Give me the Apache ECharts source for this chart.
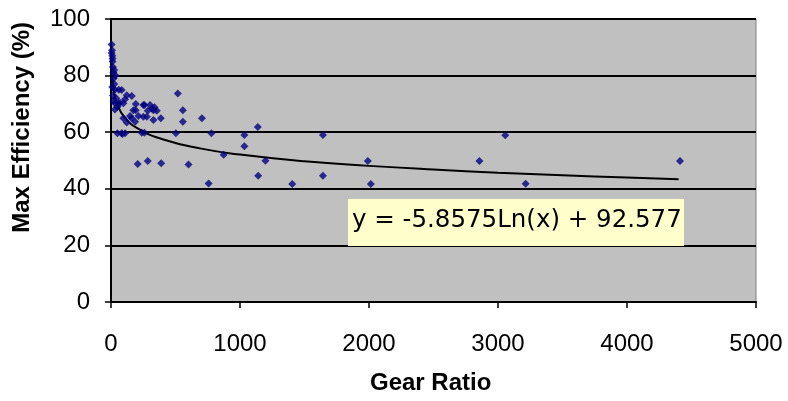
<!DOCTYPE html>
<html>
<head>
<meta charset="utf-8">
<script src="https://cdn.jsdelivr.net/npm/echarts@6/dist/echarts.min.js"></script>
<style>
  html, body { margin: 0; padding: 0; background: #fff; }
  #chart { width: 788px; height: 401px; }
</style>
</head>
<body>
<div id="chart"></div>
<script>
// measured points [gear ratio, max efficiency %]
var nearAxisPts = [
  [5, 91], [8, 89], [5, 88], [10, 87], [12, 86], [12, 85], [15, 83], [25, 82],
  [18, 81], [35, 80], [20, 79], [25, 77], [10, 76], [30, 75], [60, 75], [15, 73],
  [40, 72], [20, 71], [31, 70.2], [50, 69], [30, 68]
];
var clusterPts = [
  [83, 74.9], [122, 73.1], [161, 72.8], [57, 70.2], [96, 70.2], [70, 70.4], [109, 71.6],
  [192, 70], [173, 67.8], [259, 69.6], [251, 69.6], [303, 69.6], [316, 68.4], [337, 68.8],
  [355, 67.6], [329, 67.8], [285, 67.6], [192, 67.8], [148, 65.7], [96, 64.9], [161, 64.9],
  [212, 65.7], [251, 65.5], [278, 65.5], [329, 64.3], [386, 64.9], [122, 63.4], [187, 63.7],
  [518, 73.7], [557, 67.8], [557, 63.7], [705, 64.9]
];
var spreadPts = [
  [50, 59.6], [83, 59.6], [109, 59.6], [88, 59.4], [239, 59.8], [259, 59.8], [503, 59.6],
  [778, 59.6], [1034, 59], [1034, 55], [1643, 59], [3056, 58.9], [1138, 61.8],
  [873, 52], [207, 48.8], [285, 49.8], [389, 49], [601, 48.6], [1197, 49.9], [1991, 49.8],
  [2856, 49.8], [4411, 49.8],
  [757, 41.9], [1141, 44.6], [1405, 41.7], [1643, 44.6], [2014, 41.7], [3214, 41.8]
];

// trendline
var trendX = [3, 5, 10, 25, 50, 100, 200, 400, 700, 1000, 1500, 2000, 2500, 3000, 3500, 4000, 4400];
var trendY = [86.1, 83.2, 79.1, 73.7, 69.7, 65.6, 61.5, 57.5, 54.2, 52.1, 49.7, 48.1, 46.8, 45.7, 44.8, 44.0, 43.4];

var xTicks = [0, 1000, 2000, 3000, 4000, 5000];
var yTicks = [0, 20, 40, 60, 80, 100];
var equationText = 'y = -5.8575Ln(x) + 92.577';

var pts = nearAxisPts.concat(clusterPts, spreadPts);
var trend = trendX.map(function (x, i) { return [x, trendY[i]]; });

var myChart = echarts.init(document.getElementById('chart'));
var font = 'Liberation Sans, Arial, sans-serif';

var option = {
  animation: false,
  backgroundColor: '#ffffff',
  grid: {
    left: 111, right: 32, top: 19, bottom: 99,
    show: true, backgroundColor: '#C0C0C0', borderColor: '#808080', borderWidth: 1
  },
  xAxis: {
    type: 'value', min: xTicks[0], max: xTicks[xTicks.length - 1], interval: 1000,
    axisLine: { show: true, onZero: false, lineStyle: { color: '#000', width: 2 } },
    axisTick: { show: true, inside: false, length: 6, lineStyle: { color: '#000', width: 1.5 } },
    axisLabel: {
      color: '#000', fontSize: 24, fontFamily: font, margin: 30,
      formatter: function (v) { return String(v); }
    },
    splitLine: { show: false }
  },
  yAxis: {
    type: 'value', min: yTicks[0], max: yTicks[yTicks.length - 1], interval: 20,
    axisLine: { show: true, onZero: false, lineStyle: { color: '#000', width: 2 } },
    axisTick: { show: true, inside: false, length: 6, lineStyle: { color: '#000', width: 1.5 } },
    axisLabel: { color: '#000', fontSize: 24, fontFamily: font, margin: 21 },
    splitLine: { show: true, lineStyle: { color: '#000', width: 2 } }
  },
  graphic: [
    {
      type: 'text', left: 10, top: 22, rotation: Math.PI / 2,
      style: { text: 'Max Efficiency (%)', font: 'bold 24px ' + font, fill: '#000' }
    },
    {
      type: 'text', left: 370, top: 371,
      style: { text: 'Gear Ratio', font: 'bold 24px ' + font, fill: '#000' }
    },
    {
      type: 'rect', left: 348, top: 199, z: 100,
      shape: { width: 336, height: 47 },
      style: { fill: '#FFFFCC', stroke: 'none' }
    },
    {
      type: 'text', left: 352, top: 208, z: 101,
      style: { text: equationText, font: '24.5px DejaVu Sans, sans-serif', fill: '#000' }
    }
  ],
  series: [
    {
      type: 'line', data: trend, smooth: true, showSymbol: false, symbol: 'none',
      lineStyle: { color: '#000', width: 2 }, z: 3
    },
    {
      type: 'scatter', data: pts, symbol: 'diamond', symbolSize: 8,
      itemStyle: { color: '#000080' }, z: 4
    }
  ]
};

myChart.setOption(option);
</script>
</body>
</html>
